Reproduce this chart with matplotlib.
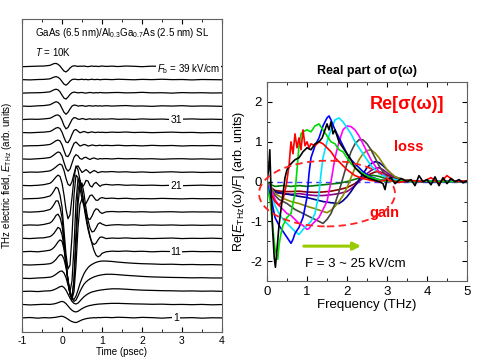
import matplotlib
matplotlib.use('Agg')
import matplotlib.pyplot as plt
from matplotlib.patches import Ellipse
from matplotlib.ticker import MultipleLocator

plt.rcParams['font.family'] = ['Liberation Sans', 'DejaVu Sans']
plt.rcParams['mathtext.fontset'] = 'custom'
plt.rcParams['mathtext.rm'] = 'Liberation Sans'
plt.rcParams['mathtext.it'] = 'Liberation Sans:italic'
plt.rcParams['mathtext.bf'] = 'Liberation Sans:bold'
plt.rcParams['axes.unicode_minus'] = False

# ---------------- left panel data: THz waveforms (offset by trace index) ----
time_ps = [-1.0, -0.8, -0.6, -0.45, -0.3, -0.25, -0.2, -0.15, -0.1, -0.05,
           0.0, 0.05, 0.1, 0.15, 0.2, 0.25, 0.3, 0.35, 0.4, 0.45,
           0.5, 0.55, 0.6, 0.65, 0.7, 0.75, 0.8, 0.85, 0.9, 0.95, 1.0,
           1.1, 1.25, 1.4, 1.6, 1.8, 2.0, 2.25, 2.5, 2.75, 3.0, 3.25, 3.5, 3.75, 4.0]

fields_kv = [1, 3, 5, 7, 9, 11, 13, 15, 17, 19, 21, 23, 25, 27, 29, 31, 33, 35, 37, 39]

E01 = [0.0, 0.03, -0.02, 0.02, 0.0, 0.02, 0.03, 0.05, 0.08, 0.11,
       0.13, 0.08, 0.0, -0.1, -0.2, -0.28, -0.33, -0.35, -0.3, -0.22,
       -0.15, -0.1, -0.06, -0.03, -0.01, 0.0, 0.02, 0.0, 0.03, 0.02, 0.03,
       0.04, 0.02, 0.05, 0.03, 0.0, 0.04, 0.02, -0.02, 0.03, 0.0, 0.02, -0.02, 0.01, 0.0]
E03 = [0.02, -0.02, 0.01, 0.03, 0.02, 0.04, 0.06, 0.1, 0.15, 0.21,
       0.25, 0.2, 0.08, -0.1, -0.28, -0.42, -0.52, -0.55, -0.5, -0.4,
       -0.3, -0.22, -0.15, -0.1, -0.06, -0.03, 0.0, 0.02, 0.04, 0.05, 0.06,
       0.08, 0.1, 0.1, 0.08, 0.06, 0.05, 0.03, 0.04, 0.01, 0.02, 0.0, 0.02, -0.01, 0.01]
E05 = [0.0, 0.02, -0.01, 0.03, 0.05, 0.08, 0.13, 0.2, 0.28, 0.36,
       0.4, 0.3, 0.1, -0.2, -0.5, -0.75, -0.9, -0.95, -0.88, -0.72,
       -0.55, -0.4, -0.28, -0.18, -0.1, -0.04, 0.0, 0.04, 0.07, 0.1, 0.12,
       0.16, 0.2, 0.2, 0.17, 0.13, 0.1, 0.08, 0.06, 0.05, 0.03, 0.04, 0.02, 0.03, 0.01]
E07 = [0.0, -0.02, 0.02, 0.04, 0.08, 0.12, 0.2, 0.3, 0.42, 0.52,
       0.55, 0.4, 0.05, -0.5, -1.1, -1.55, -1.75, -1.65, -1.35, -1.0,
       -0.7, -0.45, -0.28, -0.15, -0.05, 0.03, 0.1, 0.15, 0.2, 0.23, 0.26,
       0.3, 0.3, 0.27, 0.22, 0.18, 0.14, 0.1, 0.08, 0.06, 0.05, 0.03, 0.04, 0.02, 0.02]
E09 = [0.02, 0.0, 0.03, 0.05, 0.1, 0.16, 0.27, 0.42, 0.62, 0.78,
       0.75, 0.45, -0.2, -1.1, -1.95, -2.5, -2.6, -2.35, -1.9, -1.4,
       -1.0, -0.65, -0.4, -0.2, -0.05, 0.05, 0.13, 0.2, 0.25, 0.28, 0.3,
       0.3, 0.27, 0.22, 0.17, 0.13, 0.1, 0.08, 0.05, 0.06, 0.03, 0.04, 0.02, 0.03, 0.01]
E11 = [0.0, 0.03, 0.0, 0.05, 0.12, 0.2, 0.33, 0.52, 0.75, 0.9,
       0.8, 0.2, -0.9, -2.2, -3.2, -3.6, -2.0, 1.5, 4.6, 5.4,
       4.6, 3.6, 2.7, 1.9, 1.2, 0.6, 0.1, -0.25, -0.38, -0.3, -0.12,
       0.0, 0.05, 0.03, 0.06, 0.02, 0.04, 0.0, 0.03, 0.02, 0.0, 0.03, 0.01, 0.02, 0.0]
E13 = [0.02, 0.0, 0.04, 0.06, 0.15, 0.25, 0.4, 0.62, 0.85, 0.75,
       0.3, -0.6, -1.9, -3.2, -4.2, -4.6, -4.0, -2.0, 0.8, 2.6,
       3.0, 2.4, 1.5, 0.7, 0.1, -0.3, -0.45, -0.35, -0.1, 0.1, 0.12,
       0.0, 0.04, 0.02, 0.05, 0.01, 0.03, 0.0, 0.02, 0.04, 0.0, 0.02, 0.01, 0.03, 0.0]
E15 = [0.0, 0.03, 0.01, 0.07, 0.18, 0.3, 0.5, 0.75, 0.85, 0.6,
       0.0, -1.2, -2.8, -4.3, -5.2, -5.4, -4.2, -1.5, 1.6, 3.0,
       3.2, 2.4, 1.3, 0.4, -0.2, -0.5, -0.45, -0.2, 0.1, 0.2, 0.1,
       -0.02, 0.03, 0.05, 0.02, 0.04, 0.0, 0.03, 0.01, 0.03, 0.0, 0.02, 0.0, 0.02, 0.01]
E17 = [0.02, 0.0, 0.03, 0.08, 0.2, 0.35, 0.58, 0.85, 0.85, 0.4,
       -0.4, -2.0, -3.8, -5.3, -6.0, -5.2, -2.6, 0.8, 2.5, 2.4,
       1.5, 0.6, -0.1, -0.5, -0.55, -0.3, 0.05, 0.25, 0.2, 0.0, -0.1,
       0.02, 0.05, 0.02, 0.04, 0.01, 0.03, 0.0, 0.02, 0.03, 0.0, 0.02, 0.01, 0.02, 0.0]
E19 = [0.0, 0.02, 0.04, 0.1, 0.22, 0.38, 0.62, 0.88, 0.8, 0.3,
       -0.6, -2.4, -4.2, -5.3, -5.0, -2.8, 0.3, 1.8, 1.6, 0.8,
       0.0, -0.4, -0.35, -0.05, 0.25, 0.3, 0.1, -0.1, -0.1, 0.05, 0.1,
       0.03, 0.06, 0.02, 0.05, 0.0, 0.03, 0.01, 0.04, 0.02, 0.0, 0.03, 0.01, 0.02, 0.01]
E21 = [0.02, 0.0, 0.03, 0.08, 0.18, 0.3, 0.48, 0.66, 0.8, 0.7,
       0.2, -0.7, -1.8, -2.5, -2.2, -0.9, 0.6, 1.5, 1.2, 0.4,
       -0.1, 0.05, 0.4, 0.35, 0.0, -0.1, 0.15, 0.25, 0.1, -0.05, 0.05,
       0.1, 0.05, 0.08, 0.03, 0.05, 0.02, 0.04, 0.01, 0.03, 0.0, 0.02, 0.04, 0.01, 0.02]
E23 = [0.0, 0.03, 0.02, 0.06, 0.12, 0.2, 0.3, 0.42, 0.55, 0.64,
       0.55, 0.15, -0.45, -0.9, -1.0, -0.7, -0.1, 0.4, 0.5, 0.25,
       0.0, 0.1, 0.22, 0.1, -0.05, 0.05, 0.15, 0.08, -0.02, 0.03, 0.06,
       0.04, 0.07, 0.03, 0.05, 0.01, 0.04, 0.0, 0.03, 0.05, 0.01, 0.03, 0.0, 0.02, 0.01]
E25 = [0.02, 0.0, 0.04, 0.07, 0.13, 0.22, 0.33, 0.45, 0.55, 0.5,
       0.25, -0.25, -0.7, -0.9, -0.75, -0.3, 0.15, 0.35, 0.25, 0.05,
       0.0, 0.12, 0.15, 0.05, -0.02, 0.06, 0.1, 0.04, 0.0, 0.05, 0.03,
       0.05, 0.02, 0.06, 0.03, 0.05, 0.02, 0.04, 0.0, 0.03, 0.04, 0.01, 0.03, 0.0, 0.02]
E27 = [0.0, 0.02, 0.03, 0.06, 0.12, 0.2, 0.3, 0.4, 0.45, 0.38,
       0.1, -0.35, -0.75, -0.8, -0.55, -0.15, 0.2, 0.3, 0.15, 0.0,
       0.05, 0.12, 0.08, 0.0, 0.03, 0.08, 0.05, 0.02, 0.04, 0.06, 0.03,
       0.05, 0.03, 0.06, 0.02, 0.04, 0.01, 0.05, 0.02, 0.04, 0.0, 0.03, 0.02, 0.04, 0.01]
E29 = [0.02, 0.0, 0.03, 0.05, 0.1, 0.17, 0.27, 0.36, 0.4, 0.32,
       0.05, -0.35, -0.7, -0.75, -0.5, -0.12, 0.18, 0.25, 0.12, 0.0,
       0.05, 0.1, 0.05, 0.0, 0.04, 0.07, 0.03, 0.02, 0.05, 0.03, 0.04,
       0.02, 0.05, 0.03, 0.06, 0.02, 0.04, 0.01, 0.03, 0.05, 0.02, 0.03, 0.0, 0.02, 0.01]
E31 = [0.0, 0.03, 0.02, 0.05, 0.1, 0.17, 0.26, 0.33, 0.35, 0.25,
       -0.05, -0.45, -0.7, -0.6, -0.3, 0.0, 0.15, 0.12, 0.03, 0.02,
       0.08, 0.05, 0.0, 0.04, 0.06, 0.02, 0.04, 0.03, 0.05, 0.02, 0.04,
       0.03, 0.06, 0.02, 0.04, 0.01, 0.05, 0.02, 0.04, 0.0, 0.03, 0.05, 0.02, 0.03, 0.01]
E33 = [0.02, 0.0, 0.04, 0.06, 0.12, 0.2, 0.28, 0.35, 0.3, 0.15,
       -0.15, -0.45, -0.6, -0.45, -0.2, 0.02, 0.1, 0.08, 0.02, 0.04,
       0.06, 0.03, 0.0, 0.04, 0.05, 0.02, 0.03, 0.05, 0.02, 0.04, 0.02,
       0.05, 0.02, 0.04, 0.06, 0.02, 0.03, 0.0, 0.04, 0.02, 0.05, 0.01, 0.03, 0.02, 0.0]
E35 = [0.0, 0.02, 0.03, 0.05, 0.1, 0.18, 0.25, 0.3, 0.25, 0.1,
       -0.15, -0.38, -0.45, -0.3, -0.1, 0.03, 0.08, 0.05, 0.02, 0.04,
       0.05, 0.02, 0.0, 0.03, 0.05, 0.03, 0.01, 0.04, 0.02, 0.05, 0.03,
       0.02, 0.04, 0.05, 0.02, 0.03, 0.06, 0.02, 0.03, 0.0, 0.04, 0.02, 0.03, 0.01, 0.02]
E37 = [0.02, 0.0, 0.03, 0.04, 0.08, 0.15, 0.21, 0.25, 0.2, 0.08,
       -0.12, -0.32, -0.4, -0.28, -0.1, 0.02, 0.06, 0.04, 0.02, 0.03,
       0.05, 0.02, 0.04, 0.01, 0.03, 0.05, 0.02, 0.03, 0.04, 0.01, 0.03,
       0.04, 0.02, 0.05, 0.03, 0.01, 0.04, 0.02, 0.05, 0.02, 0.03, 0.0, 0.03, 0.02, 0.01]
E39 = [0.0, 0.02, 0.04, 0.05, 0.1, 0.17, 0.23, 0.25, 0.18, 0.05,
       -0.15, -0.33, -0.4, -0.28, -0.1, 0.02, 0.07, 0.05, 0.02, 0.04,
       0.03, 0.05, 0.02, 0.0, 0.03, 0.05, 0.02, 0.04, 0.01, 0.03, 0.05,
       0.02, 0.04, 0.01, 0.05, 0.03, 0.0, 0.04, 0.02, 0.05, 0.01, 0.03, 0.02, 0.04, 0.01]

waveforms = [E01, E03, E05, E07, E09, E11, E13, E15, E17, E19,
             E21, E23, E25, E27, E29, E31, E33, E35, E37, E39]
labelled_fields = [31, 21, 11, 1]

# ---------------- right panel data: Re[E(w)/F] spectra ----------------
f_black = [0.0, 0.04, 0.07, 0.1, 0.14, 0.18, 0.21, 0.25, 0.3, 0.35, 0.4, 0.45, 0.5,
           0.6, 0.7, 0.8, 0.9, 1.0, 1.1, 1.2, 1.3, 1.38, 1.45, 1.5, 1.55, 1.6, 1.65,
           1.7, 1.8, 1.9, 2.0, 2.1, 2.2, 2.35, 2.5, 2.65, 2.8, 2.9, 2.95, 3.0, 3.1,
           3.2, 3.35, 3.5, 3.6, 3.7, 3.8, 3.9, 4.0, 4.1, 4.2, 4.3, 4.4, 4.5, 4.6,
           4.7, 4.8, 4.9, 5.0]
v_black = [0.0, 0.3, 0.8, -0.2, -1.2, -1.9, -2.15, -1.7, -1.1, -0.7, -0.3, 0.1, 0.3,
           0.45, 0.55, 0.6, 0.75, 0.85, 0.8, 0.95, 1.0, 1.1, 1.3, 1.45, 1.3, 1.5, 1.2,
           1.3, 1.0, 0.85, 0.7, 0.55, 0.35, 0.2, 0.1, 0.05, 0.0, -0.05, -0.2, 0.05, 0.1,
           -0.05, 0.08, 0.0, 0.05, -0.1, 0.15, 0.0, 0.05, -0.08, 0.12, -0.1, 0.1, -0.05, 0.08,
           0.0, 0.05, -0.03, 0.02]
f_red = [0.1, 0.2, 0.3, 0.4, 0.48, 0.55, 0.6, 0.65, 0.7, 0.75, 0.8, 0.85, 0.9, 0.95,
         1.0, 1.05, 1.1, 1.2, 1.3, 1.4, 1.5, 1.6, 1.7, 1.8, 1.9, 2.0, 2.2, 2.4, 2.6,
         2.8, 3.0, 3.3, 3.6, 3.9, 4.1, 4.3, 4.5, 4.7, 5.0]
v_red = [-0.3, -0.5, -0.6, -0.45, -0.1, 0.4, 1.0, 0.7, 1.2, 0.85, 1.1, 0.8, 1.3, 0.9,
         1.0, 0.85, 0.95, 0.9, 1.0, 0.95, 0.85, 0.75, 0.6, 0.5, 0.4, 0.3, 0.15, 0.08, 0.03,
         0.0, 0.05, -0.02, 0.03, 0.0, 0.1, -0.05, 0.15, 0.0, 0.02]
f_green = [0.0, 0.08, 0.15, 0.2, 0.27, 0.3, 0.35, 0.4, 0.5, 0.6, 0.7, 0.75, 0.8, 0.85,
           0.9, 1.0, 1.1, 1.2, 1.3, 1.4, 1.5, 1.6, 1.7, 1.8, 1.9, 2.0, 2.1, 2.2, 2.4,
           2.6, 2.8, 3.0, 3.3, 3.6, 4.0, 4.5, 5.0]
v_green = [-0.1, -0.5, -1.2, -1.7, -1.95, -1.6, -1.3, -1.1, -0.9, -0.8, -0.3, 0.3, 0.9, 1.2,
           1.25, 1.3, 1.25, 1.4, 1.45, 1.3, 1.15, 1.0, 0.95, 0.8, 0.75, 0.6, 0.45, 0.35, 0.2,
           0.1, 0.05, 0.0, 0.02, 0.0, 0.01, 0.0, 0.0]
f_blue = [0.0, 0.1, 0.2, 0.3, 0.4, 0.5, 0.6, 0.65, 0.7, 0.8, 0.9, 1.0, 1.05, 1.1, 1.2,
          1.3, 1.4, 1.5, 1.55, 1.6, 1.7, 1.8, 1.9, 2.0, 2.1, 2.2, 2.4, 2.6, 2.8, 3.0,
          3.3, 3.6, 4.0, 4.5, 5.0]
v_blue = [-0.05, -0.4, -0.9, -1.1, -1.25, -1.4, -1.55, -1.45, -1.3, -1.15, -0.9, -0.4, 0.2,
          0.6, 0.9, 1.1, 1.4, 1.6, 1.65, 1.55, 1.3, 1.1, 0.9, 0.7, 0.55, 0.45, 0.25, 0.12,
          0.05, 0.02, 0.0, 0.01, 0.0, 0.0, 0.0]
f_cyan = [0.0, 0.1, 0.2, 0.3, 0.4, 0.5, 0.6, 0.7, 0.8, 0.9, 1.0, 1.1, 1.2, 1.3, 1.35,
          1.4, 1.5, 1.6, 1.7, 1.8, 1.9, 2.0, 2.1, 2.2, 2.3, 2.4, 2.5, 2.6, 2.8, 3.0,
          3.3, 3.6, 4.0, 4.5, 5.0]
v_cyan = [-0.05, -0.3, -0.6, -0.8, -0.95, -1.05, -1.15, -1.25, -1.33, -1.2, -1.1, -1.0, -0.8,
          -0.3, 0.2, 0.6, 1.0, 1.3, 1.55, 1.6, 1.5, 1.35, 1.2, 1.0, 0.85, 0.7, 0.55, 0.4,
          0.2, 0.1, 0.03, 0.0, 0.01, 0.0, 0.0]
f_magenta = [0.0, 0.1, 0.2, 0.3, 0.4, 0.5, 0.6, 0.7, 0.8, 0.9, 1.0, 1.05, 1.1, 1.2, 1.3,
             1.4, 1.5, 1.6, 1.7, 1.8, 1.9, 2.0, 2.1, 2.2, 2.3, 2.4, 2.5, 2.6, 2.7, 2.8,
             3.0, 3.2, 3.5, 4.0, 4.5, 5.0]
v_magenta = [-0.05, -0.2, -0.45, -0.6, -0.7, -0.8, -0.85, -0.95, -1.05, -1.1, -1.2, -1.18,
             -1.1, -1.0, -0.9, -0.7, -0.5, 0.0, 0.6, 1.0, 1.3, 1.4, 1.38, 1.3, 1.15, 0.95,
             0.75, 0.55, 0.4, 0.25, 0.1, 0.04, 0.0, 0.01, 0.0, 0.0]
f_gray = [0.0, 0.1, 0.2, 0.3, 0.5, 0.7, 0.9, 1.1, 1.2, 1.3, 1.4, 1.5, 1.6, 1.7, 1.8,
          1.9, 2.0, 2.1, 2.2, 2.3, 2.4, 2.5, 2.6, 2.7, 2.8, 2.9, 3.0, 3.2, 3.5, 4.0,
          4.5, 5.0]
v_gray = [-0.05, -0.2, -0.35, -0.45, -0.55, -0.7, -0.8, -0.9, -0.95, -1.0, -1.05, -0.95,
          -0.8, -0.55, -0.25, 0.1, 0.45, 0.75, 0.95, 1.05, 1.05, 0.95, 0.8, 0.6, 0.4, 0.25,
          0.12, 0.05, 0.0, 0.01, 0.0, 0.0]
f_olive = [0.0, 0.1, 0.2, 0.4, 0.6, 0.8, 1.0, 1.2, 1.4, 1.5, 1.6, 1.7, 1.8, 1.9, 2.0,
           2.1, 2.2, 2.3, 2.4, 2.5, 2.6, 2.7, 2.8, 2.9, 3.0, 3.2, 3.4, 3.7, 4.0, 4.5, 5.0]
v_olive = [-0.05, -0.15, -0.3, -0.42, -0.5, -0.55, -0.62, -0.68, -0.75, -0.78, -0.72, -0.62,
           -0.5, -0.35, -0.15, 0.1, 0.35, 0.55, 0.7, 0.78, 0.8, 0.72, 0.6, 0.45, 0.3, 0.12,
           0.05, 0.0, 0.01, 0.0, 0.0]
f_navy = [0.0, 0.1, 0.2, 0.4, 0.6, 0.8, 1.0, 1.2, 1.4, 1.6, 1.8, 1.9, 2.0, 2.1, 2.2,
          2.3, 2.4, 2.5, 2.6, 2.7, 2.8, 2.9, 3.0, 3.1, 3.2, 3.4, 3.7, 4.0, 4.5, 5.0]
v_navy = [-0.05, -0.15, -0.25, -0.3, -0.33, -0.37, -0.4, -0.45, -0.5, -0.53, -0.55, -0.48,
          -0.38, -0.25, -0.1, 0.05, 0.2, 0.35, 0.45, 0.5, 0.48, 0.4, 0.3, 0.2, 0.12, 0.05,
          0.0, 0.01, 0.0, 0.0]
f_small = [0.0, 0.1, 0.2, 0.4, 0.6, 0.8, 1.0, 1.2, 1.4, 1.6, 1.8, 2.0, 2.1, 2.2, 2.3,
           2.4, 2.5, 2.6, 2.7, 2.8, 2.9, 3.0, 3.1, 3.2, 3.4, 3.6, 3.8, 4.0, 4.5, 5.0]
v_purple = [-0.05, -0.2, -0.28, -0.3, -0.32, -0.3, -0.33, -0.35, -0.35, -0.33, -0.3, -0.25,
            -0.18, -0.1, 0.0, 0.1, 0.2, 0.28, 0.33, 0.35, 0.3, 0.22, 0.15, 0.1, 0.05, 0.02,
            0.0, 0.01, 0.0, 0.0]
v_maroon = [-0.05, -0.15, -0.22, -0.25, -0.25, -0.24, -0.26, -0.27, -0.26, -0.24, -0.2, -0.15,
            -0.1, -0.05, 0.02, 0.08, 0.14, 0.2, 0.24, 0.25, 0.22, 0.17, 0.12, 0.08, 0.04, 0.02,
            0.0, 0.01, 0.0, 0.0]
v_dkgreen = [0.0, -0.08, -0.12, -0.1, -0.12, -0.1, -0.12, -0.1, -0.08, -0.06, -0.04, 0.0,
             0.03, 0.06, 0.09, 0.12, 0.14, 0.16, 0.15, 0.13, 0.1, 0.07, 0.04, 0.02, 0.0, 0.01,
             0.0, 0.0, 0.0, 0.0]

spectra = [
    (f_small, v_dkgreen, '#007a00'),
    (f_small, v_maroon, '#8b0000'),
    (f_small, v_purple, '#8a008a'),
    (f_navy, v_navy, '#00008b'),
    (f_olive, v_olive, '#8b8b00'),
    (f_gray, v_gray, '#454545'),
    (f_magenta, v_magenta, '#ff00ff'),
    (f_cyan, v_cyan, '#00e5ff'),
    (f_blue, v_blue, '#0000ff'),
    (f_green, v_green, '#00dd00'),
    (f_red, v_red, '#ff0000'),
    (f_black, v_black, '#000000'),
]

# ---------------- figure ----------------
fig = plt.figure(figsize=(5, 3.6), dpi=100)

# left panel
ax1 = fig.add_axes([0.044, 0.078, 0.4, 0.869])
for i, (fk, wave) in enumerate(zip(fields_kv, waveforms)):
    ax1.plot(time_ps, [v + i for v in wave], color='black', lw=0.9)
    if fk in labelled_fields:
        ax1.text(2.85, i, str(fk), fontsize=7.5, ha='center', va='center',
                 bbox=dict(facecolor='white', edgecolor='none', pad=0.6), zorder=5)
ax1.text(2.37, 18.85, r'$F_{\rm b}$ = 39 kV/cm', fontsize=7, ha='left', va='center',
         bbox=dict(facecolor='white', edgecolor='none', pad=0.6), zorder=5)
ax1.text(-0.675, 21.55, r'GaAs (6.5 nm)/Al$_{0.3}$Ga$_{0.7}$As (2.5 nm) SL',
         fontsize=7, ha='left', va='center')
ax1.text(-0.675, 20.1, r'$T$ = 10K', fontsize=7, ha='left', va='center')
ax1.set_xlim(-1, 4)
ax1.set_ylim(-1.06, 22.6)
ax1.set_yticks([])
ax1.xaxis.set_major_locator(MultipleLocator(1))
ax1.xaxis.set_minor_locator(MultipleLocator(0.5))
ax1.tick_params(axis='x', which='both', direction='in', top=True, labelsize=7.5, pad=3)
ax1.tick_params(axis='x', which='major', length=3.5)
ax1.tick_params(axis='x', which='minor', length=2)
ax1.set_xlabel('Time (psec)', fontsize=7, labelpad=1)
ax1.set_ylabel(r'THz electric field, $E_{\rm THz}$ (arb. units)', fontsize=7, labelpad=6)
for s in ax1.spines.values():
    s.set_color('#606060')
    s.set_linewidth(0.8)

# right panel
ax2 = fig.add_axes([0.534, 0.219, 0.4, 0.553])
ax2.axhline(0, color='#4040ff', lw=1.0, ls=(0, (4, 3)), zorder=1)
for fr, vals, col in spectra:
    ax2.plot(fr, vals, color=col, lw=1.2, zorder=2)
ax2.add_patch(Ellipse((1.5, -0.3), width=3.4, height=1.65, fill=False,
                      edgecolor='#ff2020', lw=1.3, ls=(0, (4, 2.5)), clip_on=False, zorder=4))
ax2.annotate('', xy=(2.42, -1.62), xytext=(0.85, -1.62),
             arrowprops=dict(arrowstyle='-|>', color='#99cc00', lw=2.2, mutation_scale=11))
ax2.text(3.5, 1.94, 'Re[σ(ω)]', color='#ff0000', fontsize=13,
         fontweight='bold', ha='center', va='center')
ax2.text(3.18, 0.86, 'loss', color='#ff0000', fontsize=10.5, fontweight='bold',
         ha='left', va='center')
ax2.text(2.55, -0.8, 'gain', color='#ff0000', fontsize=10.5, fontweight='bold',
         ha='left', va='center')
ax2.text(2.2, -2.08, 'F = 3 ~ 25 kV/cm', fontsize=9.5, ha='center', va='center')
ax2.set_xlim(0, 5)
ax2.set_ylim(-2.5, 2.5)
ax2.xaxis.set_major_locator(MultipleLocator(1))
ax2.xaxis.set_minor_locator(MultipleLocator(0.5))
ax2.yaxis.set_major_locator(MultipleLocator(1))
ax2.yaxis.set_minor_locator(MultipleLocator(0.5))
ax2.tick_params(which='both', direction='in', top=True, right=True, labelsize=9.5)
ax2.tick_params(which='major', length=3.5)
ax2.tick_params(which='minor', length=2)
ax2.set_xlabel('Frequency (THz)', fontsize=9.5, labelpad=1)
ax2.set_ylabel(r'Re[$E_{\rm THz}$(ω)/$F$] (arb. units)', fontsize=9, labelpad=2)
ax2.set_title('Real part of σ(ω)', fontsize=9, fontweight='bold', pad=6)
for s in ax2.spines.values():
    s.set_color('#606060')
    s.set_linewidth(0.8)

fig.savefig('out.png', dpi=100)
